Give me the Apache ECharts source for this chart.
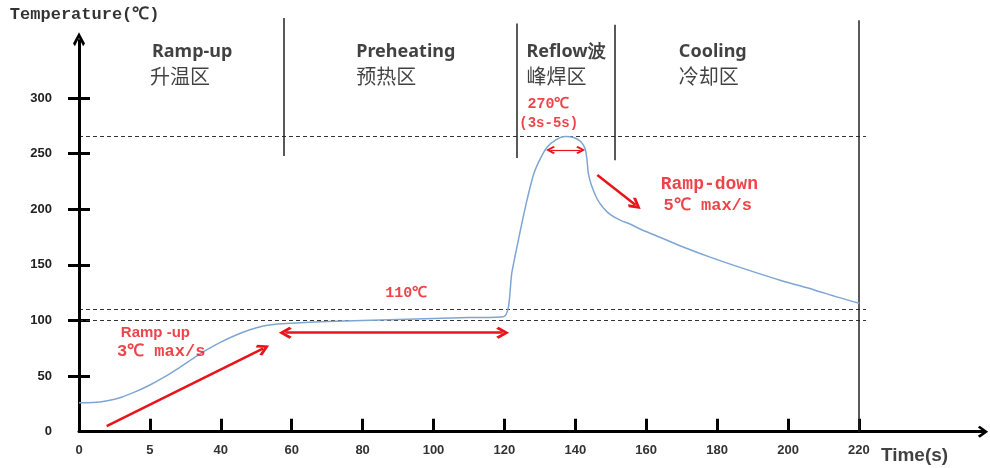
<!DOCTYPE html>
<html>
<head>
<meta charset="utf-8">
<script src="https://cdn.jsdelivr.net/npm/echarts@6/dist/echarts.min.js"></script>
<style>html,body{margin:0;padding:0;background:#fff}#c{width:990px;height:468px}</style>
</head>
<body>
<div id="c"></div>
<script>
// ---- data ----
const xTickValues = [0, 20, 40, 60, 80, 100, 120, 140, 160, 180, 200, 220];
const xTickLabels = ['0', '5', '40', '60', '80', '100', '120', '140', '160', '180', '200', '220'];
const yTickValues = [0, 50, 100, 150, 200, 250, 300];

// temperature profile [time, temperature]
const profileTime = [0, 4, 8, 12, 16, 20, 24, 28, 32, 36, 40, 44, 48, 52, 56, 60, 70, 80, 90, 100, 110, 119.7,
  122.2, 124.5, 126.5, 128.3, 130.2, 132.1, 134.5, 137.2, 139.5, 141.5, 142.7, 143.2, 143.7, 144.5, 146.2, 148,
  150, 152.8, 155.6, 158.4, 163, 169.7, 178, 188.6, 198, 207.4, 214, 220.1];
const profileTemp = [26, 26.2, 27.8, 31, 36, 42, 49, 57, 65.5, 73.5, 80.5, 86.5, 91.5, 95, 96.8, 97.6, 99, 100, 101, 101.8, 102.6, 103.4,
  145, 181, 210, 232, 246, 256, 262.5, 265.5, 264.5, 261, 255, 247, 232, 222, 209, 201,
  195, 190, 186.5, 182, 176, 167, 157, 145.5, 136, 127.5, 121, 115.5];

// dashed reference levels (°C) and their x span
const guideLevels = [266, 110, 100];
const guideSpan = [0, 222];
// zone borders: [x, yFrom, yTo]
const zoneBorders = [[57.7, 248, 372], [123.6, 246, 367], [151.2, 244, 366], [220, 0, 370]];
// zone titles [x, y, text]
const zoneTitlesEn = [[20.6, 341.4, 'Ramp-up'], [78.2, 341.4, 'Preheating'], [126.2, 341.4, 'Reflow波'], [169.2, 341.4, 'Cooling']];
const zoneTitlesZh = [[20.0, 319.9, '升温区'], [78.2, 319.9, '预热区'], [126.2, 319.9, '峰焊区'], [169.2, 319.9, '冷却区']];
// red notes [x, y, text, fontSize]
const redNotes = [[126.5, 294.6, '270℃', 15], [124.2, 277.6, '(3s-5s)', 14], [86.4, 124.7, '110℃', 15],
  [10.7, 71.7, '3℃ max/s', 17], [164.1, 222.6, 'Ramp-down', 18], [164.9, 202.9, '5℃ max/s', 17]];
const redSansNotes = [[11.8, 89.0, 'Ramp -up']];
// red arrows [x1, y1, x2, y2]
const singleArrows = [[7.8, 5, 52.0, 75], [146.2, 230.8, 157.0, 203.9]];
const doubleArrows = [[58.2, 89, 119.5, 89]];
const smallDoubleArrows = [[133.0, 253.3, 141.5, 253.3]];
// axis titles
const yTitle = [[-19.5, 374.7, 'Temperature(℃)']];
const xTitle = [[226.2, -21.9, 'Time(s)']];
const yAxisLine = [0, 0, 0, 353];

// ---- chart ----
const chevron = 'path://M5,0 L10,7 L8.4,8.6 L5,3.6 L1.6,8.6 L0,7 Z';
const RED = '#e8141b';

function textSeries(items, labelStyle) {
  return {
    type: 'scatter', silent: true, clip: false, symbolSize: 0, z: 10,
    data: items.map(t => ({ value: [t[0], t[1]], name: t[2], label: t[3] ? { fontSize: t[3] } : undefined })),
    label: Object.assign({ show: true, position: 'right', distance: 0, formatter: '{b}' }, labelStyle)
  };
}
function markSeries(lines, lineStyle, symbol, symbolSize) {
  return {
    type: 'line', data: [], silent: true, clip: false,
    markLine: {
      silent: true, animation: false, symbol: symbol, symbolSize: symbolSize,
      label: { show: false }, lineStyle: lineStyle,
      data: lines.map(l => [{ coord: [l[0], l[1]] }, { coord: [l[2], l[3]] }])
    }
  };
}

const chart = echarts.init(document.getElementById('c'), null, { renderer: 'canvas' });
chart.setOption({
  animation: false,
  backgroundColor: '#fff',
  grid: { left: 79, right: 7, top: 18, bottom: 36.3, outerBoundsMode: 'none' },
  xAxis: {
    type: 'value', min: 0, max: 255,
    axisLine: { show: true, symbol: ['none', chevron], symbolSize: [12, 14], lineStyle: { color: '#000', width: 3 } },
    axisTick: { show: true, inside: true, length: 13, customValues: xTickValues.slice(1), lineStyle: { color: '#000', width: 3 } },
    axisLabel: {
      show: true, customValues: xTickValues, margin: 12, color: '#333', fontSize: 13, fontWeight: 'bold',
      fontFamily: 'Liberation Sans, Arial',
      formatter: v => { const i = xTickValues.indexOf(v); return i >= 0 ? xTickLabels[i] : ''; }
    },
    splitLine: { show: false }
  },
  yAxis: [{
    type: 'value', min: 0, max: 372,
    axisLine: { show: false },
    axisTick: { show: true, inside: false, length: 11, customValues: yTickValues.slice(1), lineStyle: { color: '#000', width: 3 } },
    axisLabel: { show: true, customValues: yTickValues, margin: 27, color: '#222', fontSize: 13, fontWeight: 'bold', fontFamily: 'Liberation Sans, Arial' },
    splitLine: { show: false }
  }, {
    type: 'value', min: 0, max: 372, position: 'left', offset: 0,
    axisLine: { show: false },
    axisTick: { show: true, inside: true, length: 11, customValues: yTickValues.slice(1), lineStyle: { color: '#000', width: 3 } },
    axisLabel: { show: false },
    splitLine: { show: false }
  }],
  series: [
    {
      type: 'line', name: 'profile', showSymbol: false, smooth: 0.3, z: 5,
      data: profileTime.map((t, i) => [t, profileTemp[i]]),
      lineStyle: { color: '#7ea6d3', width: 1.5 }
    },
    markSeries(guideLevels.map(v => [guideSpan[0], v, guideSpan[1], v]), { color: '#333', width: 1.2, type: [4, 3] }, ['none', 'none'], 1),
    markSeries(zoneBorders.map(b => [b[0], b[1], b[0], b[2]]), { color: '#222', width: 1.5, type: 'solid' }, ['none', 'none'], 1),
    markSeries([yAxisLine], { color: '#000', width: 3, type: 'solid' }, ['none', chevron], [12, 14]),
    markSeries(singleArrows, { color: RED, width: 2.5, type: 'solid' }, ['none', chevron], [12, 13]),
    markSeries(doubleArrows, { color: RED, width: 2.5, type: 'solid' }, [chevron, chevron], [12, 13]),
    markSeries(smallDoubleArrows, { color: RED, width: 1.2, type: 'solid' }, [chevron, chevron], [8, 9]),
    textSeries(zoneTitlesEn, { color: '#111', fontSize: 18, fontWeight: 'bold', fontFamily: 'Noto Sans, Open Sans, sans-serif' }),
    textSeries(zoneTitlesZh, { color: '#111', fontSize: 20, fontWeight: 'normal', fontFamily: 'Noto Sans CJK SC, sans-serif' }),
    textSeries(redNotes, { color: RED, fontWeight: 'bold', fontFamily: 'Liberation Mono, Courier New, monospace' }),
    textSeries(redSansNotes, { color: RED, fontSize: 15, fontWeight: 'bold', fontFamily: 'Liberation Sans, Arial, sans-serif' }),
    textSeries(yTitle, { color: '#000', fontSize: 17, fontWeight: 'bold', fontFamily: 'Liberation Mono, Courier New, monospace' }),
    textSeries(xTitle, { color: '#111', fontSize: 19, fontWeight: 'bold', fontFamily: 'Liberation Sans, Arial, sans-serif' })
  ]
});
</script>
</body>
</html>
